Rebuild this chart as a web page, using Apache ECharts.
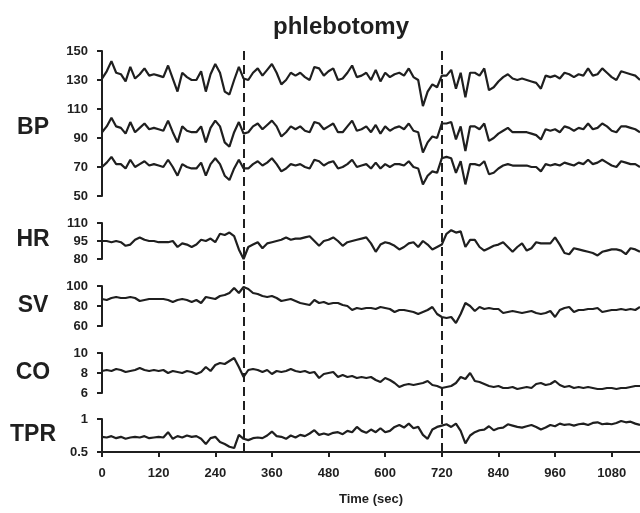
<!DOCTYPE html>
<html>
<head>
<meta charset="utf-8">
<script src="https://cdn.jsdelivr.net/npm/echarts@6/dist/echarts.min.js"></script>
<style>
html,body{margin:0;padding:0;background:#fff;}
#chart{width:640px;height:513px;}
</style>
</head>
<body>
<div id="chart"></div>
<script>
// Sampling step (sec) of the traces
const STEP = 10;
const xTicks = [0,120,240,360,480,600,720,840,960,1080];
const events = [300, 720]; // phlebotomy start / end markers

const bpSys = [131,136,143,135,134,129,139,131,134,138,
133,134,133,132,140,131,122,135,132,130,
130,136,122,134,141,135,122,120,130,139,
131,130,135,138,133,137,141,135,127,130,
135,133,135,132,130,139,138,133,136,138,
130,131,135,140,132,133,135,130,137,129,
135,132,134,135,133,138,132,130,112,122,
127,125,133,133,137,124,135,118,135,135,
133,138,123,125,129,132,134,131,130,131,
130,129,128,124,133,132,133,131,135,134,
132,134,133,138,133,134,138,135,132,130,
136,135,134,133,130];

const bpMean = [94,98,104,98,97,93,101,94,97,100,
96,97,96,95,102,94,87,98,95,94,
94,98,87,97,102,98,87,84,94,101,
93,94,98,100,96,99,102,98,91,94,
98,96,98,95,94,101,100,96,98,100,
94,94,98,102,95,96,98,94,99,93,
98,95,97,98,96,100,95,94,80,87,
91,90,100,100,101,89,98,81,98,98,
96,100,88,90,93,95,97,94,94,94,
94,93,92,89,96,95,96,94,98,97,
95,97,96,100,96,97,100,98,95,94,
98,98,97,96,94];

const bpDia = [70,73,77,72,72,69,75,70,72,74,
71,72,71,70,75,70,64,72,70,69,
69,73,64,72,76,72,64,61,69,75,
69,69,72,74,71,73,76,72,67,69,
72,71,72,70,69,75,74,71,73,74,
69,70,72,75,70,71,72,69,73,69,
72,70,72,72,71,74,70,69,58,64,
67,66,76,77,76,66,74,58,72,72,
71,74,65,66,69,71,72,71,71,71,
71,70,70,67,72,71,72,71,73,72,
71,73,72,75,72,73,75,73,71,70,
74,73,72,72,70];

const hr = [95,95,94,95,94,91,92,96,98,96,
95,95,94,94,94,95,90,93,92,90,
92,96,95,97,94,101,100,102,99,88,
80,90,92,94,89,93,94,95,96,98,
96,97,97,98,99,95,91,95,96,98,
95,91,94,95,96,97,98,93,86,92,
94,93,91,88,90,93,94,90,95,92,
88,90,92,101,104,102,103,90,96,96,
90,87,89,91,92,94,90,86,90,93,
87,89,94,93,93,93,98,92,85,84,
89,88,87,86,85,83,86,87,88,88,
87,84,89,88,86];

const sv = [87,86,88,89,88,88,89,88,85,86,
87,87,87,87,86,84,86,87,86,84,
86,83,89,88,87,90,91,93,98,93,
99,97,93,92,90,89,90,88,85,86,
87,85,83,82,81,86,83,84,82,83,
83,81,80,76,78,77,78,78,77,79,
78,77,74,76,76,75,74,72,74,76,
79,72,69,68,69,63,72,83,80,75,
79,77,78,77,77,73,74,75,74,73,
74,75,73,72,73,75,69,76,78,79,
74,76,76,77,77,78,74,75,76,76,
77,76,77,76,79];

const co = [8.2,8.3,8.2,8.4,8.3,8.1,8.2,8.3,8.5,8.3,
8.2,8.3,8.2,8.3,8.0,8.2,8.1,8.0,8.2,8.1,
7.9,8.1,8.6,8.2,8.8,9.0,8.9,9.2,9.5,8.6,
7.6,8.3,8.4,8.3,8.1,8.3,7.9,8.2,8.1,8.2,
8.4,8.2,8.1,8.2,8.0,8.1,7.5,7.9,8.0,8.1,
7.6,7.8,7.6,7.7,7.5,7.6,7.5,7.6,7.3,7.1,
7.5,7.3,7.0,6.6,6.8,6.9,6.8,6.9,7.0,7.2,
6.8,6.7,6.5,6.6,6.7,7.0,7.6,7.4,8.0,7.2,
7.1,6.9,6.7,6.6,6.7,6.5,6.5,6.6,6.4,6.5,
6.6,6.5,6.9,7.0,6.8,6.9,7.2,6.8,6.6,6.7,
6.5,6.6,6.5,6.6,6.5,6.4,6.4,6.5,6.5,6.4,
6.5,6.5,6.6,6.7,6.7];

const tpr = [0.73,0.72,0.74,0.71,0.73,0.70,0.72,0.73,0.72,0.74,
0.71,0.72,0.73,0.72,0.80,0.70,0.74,0.72,0.75,0.73,
0.74,0.70,0.62,0.71,0.73,0.65,0.62,0.58,0.56,0.76,
0.70,0.68,0.71,0.72,0.71,0.75,0.81,0.74,0.73,0.70,
0.75,0.72,0.76,0.74,0.78,0.83,0.76,0.78,0.76,0.79,
0.80,0.77,0.82,0.80,0.88,0.82,0.79,0.84,0.80,0.86,
0.80,0.82,0.88,0.91,0.87,0.93,0.86,0.88,0.76,0.70,
0.84,0.88,0.90,0.92,0.88,0.93,0.82,0.63,0.75,0.80,
0.83,0.84,0.89,0.83,0.86,0.87,0.92,0.90,0.88,0.87,
0.89,0.91,0.88,0.84,0.87,0.91,0.89,0.93,0.91,0.92,
0.90,0.92,0.93,0.91,0.94,0.95,0.92,0.93,0.92,0.94,
0.97,0.95,0.96,0.93,0.91];

const panels = [
  {name:'BP',  min:50,  max:150, interval:20},
  {name:'HR',  min:80,  max:110, interval:15},
  {name:'SV',  min:60,  max:100, interval:20},
  {name:'CO',  min:6,   max:10,  interval:2},
  {name:'TPR', min:0.5, max:1,   interval:0.5}
];
const XMAX = 1140;

function pairs(arr){ return arr.map((v,i)=>[i*STEP, v]); }

const INK = '#1f1f1f';
const FONT = '"Liberation Sans", Arial, sans-serif';
const gridPos = [
  {top:51,  height:145},
  {top:223, height:36},
  {top:286, height:40},
  {top:353, height:40},
  {top:419, height:33},
  {top:46,  height:406}
];
const grids = gridPos.map(g=>({left:102, width:538, top:g.top, height:g.height, containLabel:false}));

const xAxes = gridPos.map((g,i)=>{
  const isBottom = i===4;
  return {
    type:'value', gridIndex:i, min:0, max:XMAX, interval:120,
    show: isBottom,
    axisLine:{show:isBottom, lineStyle:{color:INK, width:2}},
    axisTick:{show:isBottom, length:5, lineStyle:{color:INK, width:2}},
    axisLabel:{show:isBottom, showMaxLabel:false, color:INK, fontSize:13, fontWeight:'bold', fontFamily:FONT, margin:15,
      formatter:(v)=>String(v)},
    splitLine:{show:false},
    name: isBottom ? 'Time (sec)' : '',
    nameLocation:'middle', nameGap:41,
    nameTextStyle:{color:INK, fontSize:13, fontWeight:'bold', fontFamily:FONT}
  };
});

const yAxes = panels.map((p,i)=>({
  type:'value', gridIndex:i, min:p.min, max:p.max, interval:p.interval,
  axisLine:{show:true, lineStyle:{color:INK, width:2}},
  axisTick:{show:true, length:5, lineStyle:{color:INK, width:2}},
  axisLabel:{color:INK, fontSize:13, fontWeight:'bold', fontFamily:FONT, margin:14,
    formatter:(v)=>String(v)},
  splitLine:{show:false}
}));
yAxes.push({type:'value', gridIndex:5, min:0, max:1, show:false});

const lineStyle = {color:INK, width:2.2};
function lineSeries(data, idx){
  return {type:'line', xAxisIndex:idx, yAxisIndex:idx, data:pairs(data), showSymbol:false,
    symbol:'none', lineStyle:lineStyle, silent:true, animation:false};
}
const series = [
  lineSeries(bpSys,0), lineSeries(bpMean,0), lineSeries(bpDia,0),
  lineSeries(hr,1), lineSeries(sv,2), lineSeries(co,3), lineSeries(tpr,4),
  {type:'line', xAxisIndex:5, yAxisIndex:5, data:[], silent:true, animation:false,
   markLine:{symbol:['none','none'], silent:true, animation:false, label:{show:false},
     lineStyle:{color:INK, width:2, type:[9,5]},
     data: events.map(e=>({xAxis:e}))}}
];

const labelPos = [{y:128},{y:240},{y:306},{y:373},{y:435}];
const graphics = panels.map((p,i)=>({
  type:'text', x:33, y:labelPos[i].y,
  style:{text:p.name, fill:INK, font:'bold 23px '+FONT, textAlign:'center', textVerticalAlign:'middle'}
}));
graphics.push({type:'text', x:341, y:27,
  style:{text:'phlebotomy', fill:INK, font:'bold 24px '+FONT, textAlign:'center', textVerticalAlign:'middle'}});

const chart = echarts.init(document.getElementById('chart'), null, {renderer:'canvas'});
chart.setOption({
  animation:false,
  backgroundColor:'#fff',
  grid:grids, xAxis:xAxes, yAxis:yAxes, series:series, graphic:graphics
});
</script>
</body>
</html>
